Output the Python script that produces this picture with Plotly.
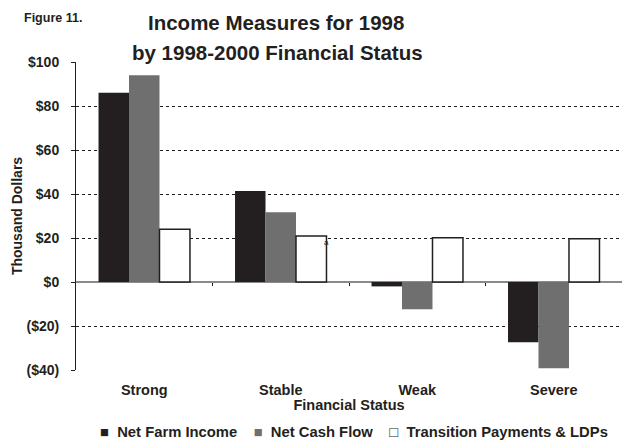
import plotly.graph_objects as go

categories = ["Strong", "Stable", "Weak", "Severe"]
net_farm_income = [86.0, 41.4, -2.0, -27.4]
net_cash_flow = [94.0, 31.7, -12.4, -39.2]
transition_payments = [24.0, 20.9, 20.1, 19.7]
series_names = ["Net Farm Income", "Net Cash Flow", "Transition Payments & LDPs"]
series_colors = ["#231f20", "#706f6f", "#ffffff"]
y_tickvals = [-40, -20, 0, 20, 40, 60, 80, 100]
y_ticktext = ["($40)", "($20)", "$0", "$20", "$40", "$60", "$80", "$100"]

FONT = "Liberation Sans, Arial, sans-serif"
INK = "#231f20"
xi = list(range(len(categories)))

W, H = 622, 440
ML, MR, MT, MB = 76, 0, 62, 70
PW, PH = W - ML - MR, H - MT - MB


def px_x(x):
    return (x - ML) / PW


def px_y(y):
    return 1 + (MT - y) / PH


fig = go.Figure()
for vals, name, col in zip([net_farm_income, net_cash_flow, transition_payments], series_names, series_colors):
    line = dict(color=INK, width=1.5) if col == "#ffffff" else dict(width=0)
    fig.add_trace(go.Bar(x=xi, y=vals, name=name, marker=dict(color=col, line=line),
                         showlegend=False))

fig.update_layout(
    width=W, height=H,
    margin=dict(l=ML, r=MR, t=MT, b=MB),
    paper_bgcolor="white", plot_bgcolor="white",
    font=dict(family=FONT, color=INK, size=14),
    barmode="group", bargap=0.33, bargroupgap=0,
    showlegend=False,
    xaxis=dict(range=[-0.5, 3.5], tickvals=xi, ticktext=["<b>%s</b>" % c for c in categories],
               showline=False, ticks="", showgrid=False, zeroline=False,
               tickfont=dict(size=14.5), ticklabelstandoff=9,
               title=dict(text="<b>Financial Status</b>", font=dict(size=14.5), standoff=2)),
    xaxis2=dict(range=[-0.5, 3.5], overlaying="x", anchor="free", position=40 / 140,
                tickvals=[0.5, 1.5, 2.5], showticklabels=False, ticks="outside",
                ticklen=3, tickcolor=INK, tickwidth=1, showline=False, showgrid=False,
                zeroline=False),
    yaxis=dict(range=[-40, 100], tickvals=y_tickvals, ticktext=["<b>%s</b>" % t for t in y_ticktext],
               showline=True, linecolor=INK, linewidth=1,
               ticks="outside", ticklen=4, tickcolor=INK,
               showgrid=True, gridcolor=INK, griddash="dot", gridwidth=1,
               zeroline=True, zerolinecolor="#8a8a8a", zerolinewidth=1.5,
               tickfont=dict(size=14), ticklabelstandoff=9,
               title=dict(text="<b>Thousand Dollars</b>", font=dict(size=14), standoff=0)),
)
# invisible trace so the zero-line category tick axis is drawn
fig.add_trace(go.Scatter(x=[0.5], y=[0], xaxis="x2", mode="markers",
                         marker=dict(opacity=0), showlegend=False, hoverinfo="skip"))

# title lines
fig.add_annotation(text="<b>Income Measures for 1998</b>", xref="paper", yref="paper",
                   x=px_x(276), y=px_y(23), xanchor="center", yanchor="middle", showarrow=False,
                   font=dict(size=20.5, family=FONT, color=INK))
fig.add_annotation(text="<b>by 1998-2000 Financial Status</b>", xref="paper", yref="paper",
                   x=px_x(277), y=px_y(53), xanchor="center", yanchor="middle", showarrow=False,
                   font=dict(size=20.5, family=FONT, color=INK))
fig.add_annotation(text="<b>Figure 11.</b>", xref="paper", yref="paper",
                   x=px_x(22), y=px_y(18), xanchor="left", yanchor="middle",
                   showarrow=False, font=dict(size=12.5, family=FONT, color=INK))
fig.add_annotation(text="a", x=1.335, y=transition_payments[1], xref="x", yref="y",
                   xanchor="center", yanchor="top", showarrow=False,
                   font=dict(size=8, family=FONT, color=INK))

# legend row built from the series names and colours
sp = "\u00a0"
parts = []
for name, col in zip(series_names, series_colors):
    if col == "#ffffff":
        sym = '<span style="color:%s">□</span>' % INK
    else:
        sym = '<span style="color:%s">■</span>' % col
    parts.append(sym + sp * 2 + "<b>%s</b>" % name.replace("&", "&amp;"))
legend_text = (sp * 4).join(parts)
fig.add_annotation(text=legend_text, xref="paper", yref="paper",
                   x=px_x(354), y=px_y(432), xanchor="center", yanchor="middle",
                   showarrow=False, font=dict(size=14.8, family=FONT, color=INK))

fig.write_html("out.html")
